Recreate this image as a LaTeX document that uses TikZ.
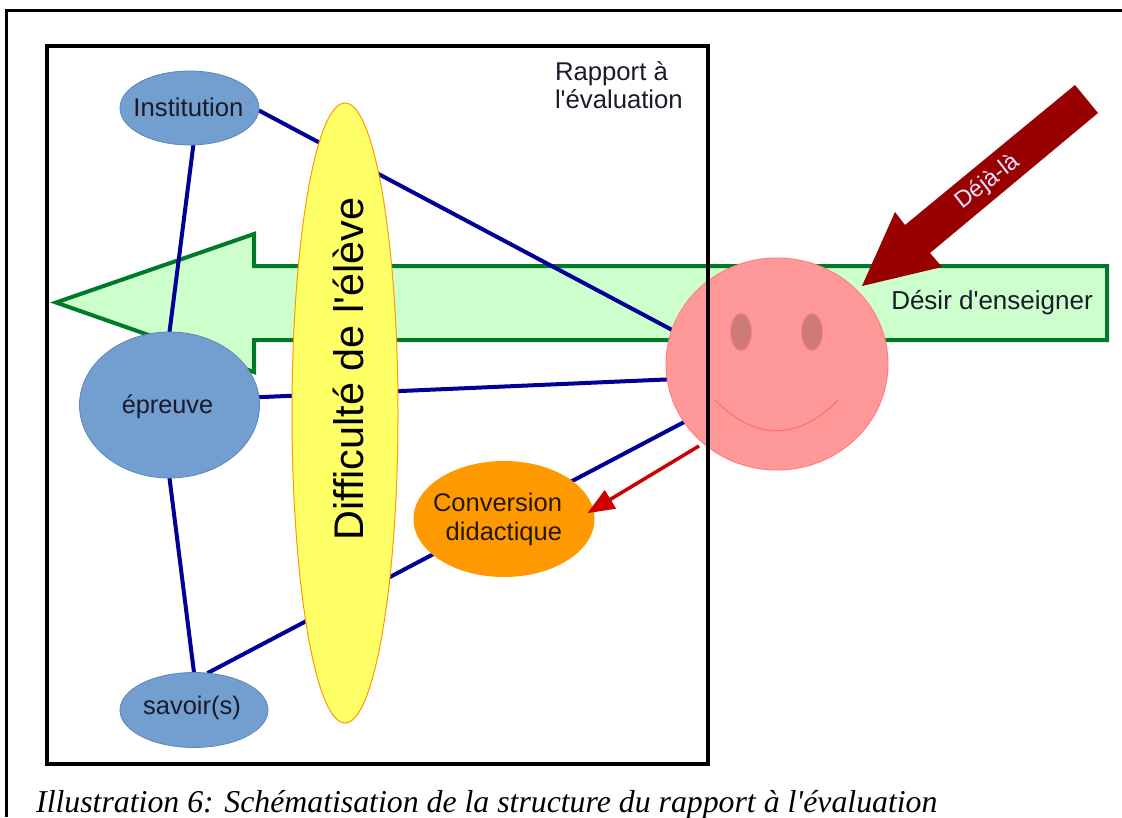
\documentclass[tikz,border=0pt]{standalone}
\usepackage{fontspec}
\newfontfamily\labfont{Liberation Sans}
\newfontfamily\capfont{Liberation Serif}
\usetikzlibrary{arrows.meta,shapes.geometric}
\pgfdeclarelayer{under}
\pgfsetlayers{under,main}
\definecolor{bluefill}{HTML}{729FCF}
\definecolor{blueedge}{HTML}{5C86B8}
\definecolor{linkblue}{HTML}{000099}
\definecolor{arrowgreen}{HTML}{007A2A}
\definecolor{palegreen}{HTML}{CCFFCC}
\definecolor{paleyellow}{HTML}{FFFF66}
\definecolor{amber}{HTML}{FF9900}
\definecolor{pinkface}{HTML}{FF9999}
\definecolor{pinkedge}{HTML}{FF7F7F}
\definecolor{eyefill}{HTML}{CC7A7A}
\definecolor{darkred}{HTML}{990000}
\definecolor{redarrow}{HTML}{CC0000}
\definecolor{inkdark}{HTML}{1A1A2A}
\tikzset{
  blob/.style={ellipse,draw=blueedge,line width=0.8pt,fill=bluefill,inner sep=0pt,outer sep=0pt},
  link/.style={draw=linkblue,line width=4pt},
  lbl/.style={inner sep=0pt,outer sep=0pt,text=inkdark},
  eyeshape/.style={ellipse,draw=pinkedge,line width=1pt,fill=eyefill,minimum width=21,minimum height=37,inner sep=0pt},
}
\begin{document}
\begin{tikzpicture}[x=1pt,y=-1pt,every node/.append style={font=\labfont}]
\path[use as bounding box] (0,0) rectangle (1122,817);
% outer frame
\draw[black,line width=2.5pt] (6.5,817) -- (6.5,10.5) -- (1122,10.5);
% ellipses
\node[blob,minimum width=139,minimum height=74] (inst) at (189.5,108) {};
\node[lbl,font=\labfont\fontsize{25.7}{29}\selectfont] (instl) at (188.5,107) {Institution};
\node[blob,minimum width=180,minimum height=146] (epr) at (169.5,405) {};
\node[lbl,font=\labfont\fontsize{25.3}{29}\selectfont] (eprl) at (167.5,406.5) {épreuve};
\node[blob,minimum width=148,minimum height=75] (sav) at (194,710) {};
\node[lbl,font=\labfont\fontsize{25.5}{29}\selectfont] (savl) at (192,708) {savoir(s)};
\node[ellipse,draw=amber,line width=1pt,fill=paleyellow,minimum width=106,minimum height=620,inner sep=0pt] (diff) at (345,413) {};
\node[inner sep=0pt,rotate=90,text=black,font=\labfont\fontsize{41.4}{46}\selectfont] (diffl) at (348,369) {Difficulté de l'élève};
\node[ellipse,fill=amber,minimum width=181,minimum height=116,inner sep=0pt,outer sep=0pt] (conv) at (504,519) {};
\node[lbl,align=right,anchor=east,text=black!85!amber,font=\labfont\fontsize{25.5}{29}\selectfont] (convl) at (562,519) {Conversion\\didactique};
\node[ellipse,draw=pinkedge,line width=1pt,fill=pinkface,minimum width=222,minimum height=212,inner sep=0pt,outer sep=0pt] (smile) at (777,364) {};
\node[eyeshape] (eyeL) at (741,332) {};
\node[eyeshape] (eyeR) at (812,332) {};
\draw[pinkedge!90!red,line width=1.2pt] (715,400) .. controls (755,441) and (798,441) .. (838,400);
% under layer: green arrow and links
\begin{pgfonlayer}{under}
\draw[arrowgreen,line width=4pt,fill=palegreen,line join=miter]
  (1107,266) -- (254,266) -- (254,234) -- (56,302.5) -- (254,372) -- (254,340) -- (1107,340) -- cycle;
\draw[link] (inst.-84) -- (epr.90);
\draw[link] (epr.-90) -- (sav.90);
\draw[link] (inst.-2) -- (smile.162);
\draw[link] (epr.5) -- (smile.188);
\draw[link] (sav.70) -- (smile.212);
\end{pgfonlayer}
% red arrow
\coordinate (redtail) at (699,446);
\draw[-{Triangle[length=27pt,width=21pt]},draw=redarrow,fill=redarrow,line width=3.5pt,shorten >=-7pt] (redtail) -- (conv.6);
% box
\draw[black,line width=4pt,line join=miter] (47,46) rectangle (708,764);
\node[lbl,align=left,anchor=north west,font=\labfont\fontsize{25.7}{28}\selectfont] (rapp) at (555,61.5) {Rapport à\\l'évaluation};
% dark red arrow
\fill[darkred] (1075,85) -- (1098,113) -- (930,253) -- (942,267) -- (862,286) -- (895,212) -- (905,225) -- cycle;
\node[inner sep=0pt,rotate=38,text=white!90!blue,font=\labfont\fontsize{23.5}{26}\selectfont] (dejal) at (988,182) {Déjà-là};
\node[lbl,font=\labfont\fontsize{26}{29}\selectfont] (desl) at (992,303) {Désir d'enseigner};
% caption
\node[inner sep=0pt,anchor=base west,font=\capfont\itshape\fontsize{31.8}{36}\selectfont,text=black] (capt) at (36,812) {Illustration 6: Schématisation de la structure du rapport à l'évaluation};
\end{tikzpicture}
\end{document}
